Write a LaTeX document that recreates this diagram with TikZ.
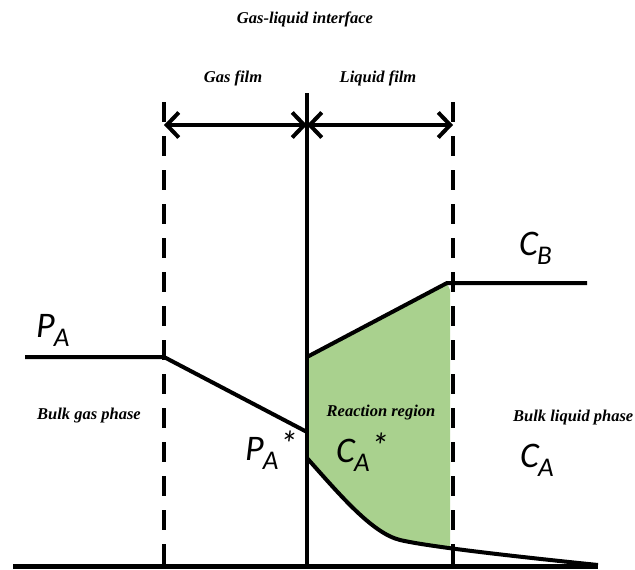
\documentclass[tikz,border=0pt]{standalone}
\usepackage{fontspec}
\setmainfont{Liberation Serif}
\newfontfamily\calib{Carlito}
\usetikzlibrary{arrows.meta}
\definecolor{reactgreen}{HTML}{A9D18E}
\newcommand\biglbl[3]{{\calib\itshape\fontsize{36}{36}\selectfont #1\kern-1pt\raisebox{-9pt}{\fontsize{27}{27}\selectfont #2}\kern1pt\raisebox{4pt}{\fontsize{36}{36}\selectfont #3}}}
\begin{document}
\begin{tikzpicture}[x=1pt,y=-1pt,
  thickline/.style={line width=4pt},
  dashline/.style={line width=4pt,dash pattern=on 20pt off 14pt},
  arr/.style={line width=4pt,{Straight Barb[length=12pt,width=25pt,line width=4pt]}-{Straight Barb[length=12pt,width=25pt,line width=4pt]}},
  small/.style={font=\fontsize{16.5}{17}\selectfont\bfseries\itshape,inner sep=0pt},
  big/.style={anchor=base west,inner sep=0pt}]
\useasboundingbox[fill=white] (0,0) rectangle (635,570);
% coordinates
\coordinate (gl) at (164,125);
\coordinate (gi) at (307,125);
\coordinate (gr) at (453,125);
\coordinate (ltop) at (164,102);
\coordinate (lbot) at (164,566);
\coordinate (rtop) at (453,102);
\coordinate (rbot) at (453,566);
\coordinate (itop) at (307,93);
\coordinate (ibot) at (307,566);
\coordinate (b0) at (13,566);
\coordinate (b1) at (598,566);
\coordinate (pa0) at (25,357);
\coordinate (pa1) at (164,357);
\coordinate (pa2) at (307,432);
\coordinate (cb0) at (307,357);
\coordinate (cb1) at (447,283);
\coordinate (cb2) at (587,283);
\coordinate (ca0) at (307,458);
\coordinate (ca1) at (400,540);
\coordinate (ca2) at (598,565);
% green reaction region
\fill[reactgreen] (cb0) -- (cb1) -- (450,290) -- (450,548)
  .. controls (440,547) and (430,547) .. (ca1)
  .. controls (372,533) and (340,495) .. (ca0) -- cycle;
% curves
\draw[thickline] (pa0) -- (pa1) -- (pa2);
\draw[thickline,line join=round] (cb0) -- (cb1) -- (cb2);
\draw[thickline] (ca0) .. controls (340,495) and (372,533) .. (ca1)
  .. controls (430,547) and (520,557) .. (ca2);
% structure lines
\draw[dashline] (ltop) -- (lbot);
\draw[dashline] (rtop) -- (rbot);
\draw[thickline] (itop) -- (ibot);
\draw[line width=5pt] (b0) -- (b1);
% arrows
\draw[arr] (gl) -- (gi);
\draw[arr] (gi) -- (gr);
% small labels
\node[small] (title) at (305,19) {Gas-liquid interface};
\node[small] (gasfilm) at (233,78) {Gas film};
\node[small] (liqfilm) at (378,78) {Liquid film};
\node[small] (bulkgas) at (89,416) {Bulk gas phase};
\node[small] (react) at (381,413) {Reaction region};
\node[small,anchor=west] (bulkliq) at (513,418) {Bulk liquid phase};
% big labels
\node[big] (PA) at (36,337) {\biglbl{P}{A}{}};
\node[big] (CB) at (519,255) {\biglbl{C}{B}{}};
\node[big] (PAs) at (245,460) {\biglbl{P}{A}{*}};
\node[big] (CAs) at (336,462) {\biglbl{C}{A}{*}};
\node[big] (CA) at (520,467) {\biglbl{C}{A}{}};
\end{tikzpicture}
\end{document}
